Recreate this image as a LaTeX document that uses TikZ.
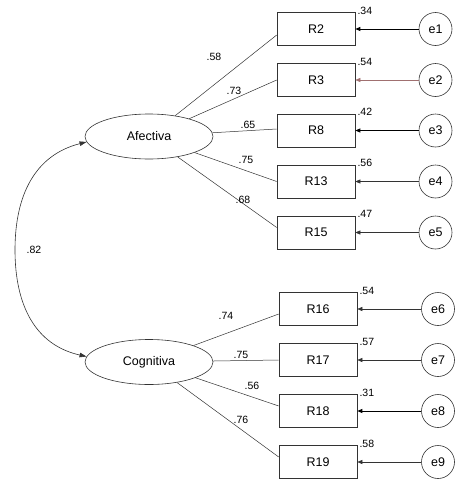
\documentclass[tikz,border=0pt]{standalone}
\usepackage{fontspec}
\setmainfont{Liberation Sans}
\usetikzlibrary{arrows.meta,shapes.geometric}
\definecolor{ln}{HTML}{333333}
\definecolor{lnred}{HTML}{A07070}
\tikzset{
  lat/.style={draw=ln, ellipse, line width=0.6pt, minimum width=128pt, minimum height=45pt, inner sep=0pt, font=\fontsize{12.5}{14}\selectfont},
  obs/.style={draw=ln, rectangle, line width=0.6pt, minimum width=78pt, minimum height=33pt, inner sep=0pt, font=\fontsize{12.5}{14}\selectfont},
  err/.style={draw=ln, circle, line width=0.6pt, minimum size=33pt, inner sep=0pt, font=\fontsize{12.5}{14}\selectfont},
  load/.style={draw=ln, line width=0.5pt},
  lab/.style={font=\fontsize{10.5}{12}\selectfont, inner sep=0pt},
  r2/.style={font=\fontsize{10.5}{12}\selectfont, inner sep=0pt, anchor=base west},
  errarr/.style={draw=ln, line width=0.6pt, -{Triangle[length=5pt,width=4pt]}},
  cov/.style={draw=ln, line width=0.6pt, {Triangle[length=7pt,width=4.5pt]}-{Triangle[length=7pt,width=4.5pt]}}
}
\begin{document}
\begin{tikzpicture}[x=1pt,y=-1pt]
\useasboundingbox (0,0) rectangle (475,490);
% latent
\node[lat] (A) at (149,136.5) {Afectiva};
\node[lat] (C) at (149,362) {Cognitiva};
% observed
\node[obs] (R2) at (316,29) {R2};
\node[obs] (R3) at (316,80) {R3};
\node[obs] (R8) at (316,130.5) {R8};
\node[obs] (R13) at (316,181.5) {R13};
\node[obs] (R15) at (316,232.5) {R15};
\node[obs] (R16) at (318,309) {R16};
\node[obs] (R17) at (318,360) {R17};
\node[obs] (R18) at (318,411) {R18};
\node[obs] (R19) at (318,462) {R19};
% errors
\node[err] (e1) at (435.5,29) {e1};
\node[err] (e2) at (435.5,80) {e2};
\node[err] (e3) at (435.5,130.5) {e3};
\node[err] (e4) at (435.5,181.5) {e4};
\node[err] (e5) at (435.5,232.5) {e5};
\node[err] (e6) at (438,309) {e6};
\node[err] (e7) at (438,360) {e7};
\node[err] (e8) at (438,411) {e8};
\node[err] (e9) at (438,462) {e9};
% loadings
\coordinate (p2) at ([yshift=-6]R2.west);
\coordinate (p15) at ([yshift=5]R15.west);
\draw[load] (A) -- (p2);
\draw[load] (A) -- (R3.west);
\draw[load] (A) -- ([yshift=1.5]R8.west);
\draw[load] (A) -- (R13.west);
\draw[load] (A) -- (p15);
\draw[load] (C) -- ([yshift=-5]R16.west);
\draw[load] (C) -- (R17.west);
\draw[load] (C) -- ([yshift=5]R18.west);
\draw[load] (C) -- ([yshift=5]R19.west);
% error arrows
\foreach \e/\r in {e1/R2,e3/R8,e8/R18}{\draw[errarr, draw=black, line width=0.8pt] (\e) -- (\r);}
\foreach \e/\r in {e4/R13,e5/R15,e6/R16,e7/R17,e9/R19}{\draw[errarr] (\e) -- (\r);}
\draw[errarr, draw=lnred] (e2) -- (R3);
% covariance
\coordinate (m) at (15,250);
\draw[cov] (A.185) .. controls (35,155) and (15,195) .. (m) .. controls (15,305) and (35,345) .. (C.175);
% loading labels
\node[lab] (l1) at (214,57) {.58};
\node[lab] (l2) at (234,91) {.73};
\node[lab] (l3) at (248,125) {.65};
\node[lab] (l4) at (246,160) {.75};
\node[lab] (l5) at (243,200) {.68};
\node[lab] (l6) at (226,316) {.74};
\node[lab] (l7) at (241,355) {.75};
\node[lab] (l8) at (252,386) {.56};
\node[lab] (l9) at (241,420) {.76};
\node[lab] (l10) at (34,250) {.82};
% R2 labels
\node[r2] (s1) at ([xshift=2,yshift=-2]R2.north east) {.34};
\node[r2] (s2) at ([xshift=2,yshift=-2]R3.north east) {.54};
\node[r2] (s3) at ([xshift=2,yshift=-2]R8.north east) {.42};
\node[r2] (s4) at ([xshift=2,yshift=-2]R13.north east) {.56};
\node[r2] (s5) at ([xshift=2,yshift=-2]R15.north east) {.47};
\node[r2] (s6) at ([xshift=2,yshift=-2]R16.north east) {.54};
\node[r2] (s7) at ([xshift=2,yshift=-2]R17.north east) {.57};
\node[r2] (s8) at ([xshift=2,yshift=-2]R18.north east) {.31};
\node[r2] (s9) at ([xshift=2,yshift=-2]R19.north east) {.58};
\end{tikzpicture}
\end{document}
